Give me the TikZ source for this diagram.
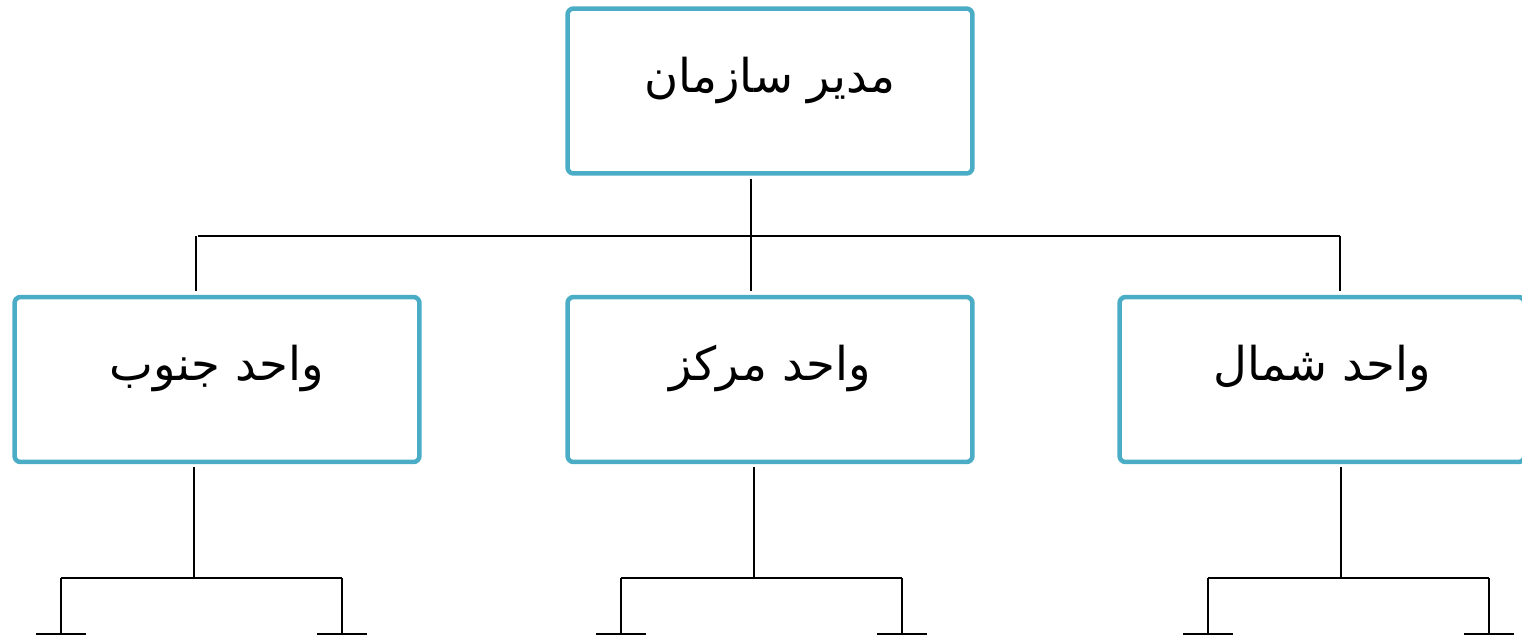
\documentclass[tikz,border=0pt]{standalone}
\usepackage{fontspec}
\usepackage{xcolor}
\usetikzlibrary{calc}
\TeXXeTstate=1
\newfontfamily\arabicfont[Script=Arabic]{DejaVu Sans}
\definecolor{boxblue}{HTML}{4BACC6}
\newcommand{\boxtext}[1]{\raisebox{0.22cm}[\height][\depth]{\beginR #1\endR}}

\begin{document}
\begin{tikzpicture}[x=0.02cm,y=-0.02cm]
        \tikzstyle{unit}=[draw=boxblue,line width=0.09cm,rounded corners=0.12cm,minimum width=8.1cm,minimum height=3.3cm,inner sep=0pt,font=\arabicfont\fontsize{26.5}{30}\selectfont]
        \tikzstyle{link}=[line width=0.042cm]
            \useasboundingbox (0,0) rectangle (1522,637);

            \node[unit] (boss) at (770,91) {\boxtext{مدیر سازمان}};
            \node[unit] (south) at ($(boss)+(-553,288.5)$) {\boxtext{واحد جنوب}};
            \node[unit] (center) at ($(boss)+(0,288.5)$) {\boxtext{واحد مرکز}};
            \node[unit] (north) at ($(boss)+(552,288.5)$) {\boxtext{واحد شمال}};

            \coordinate (top) at (751,236);
            \coordinate (tS) at (196,236);
            \coordinate (tN) at (1340,236);

            \draw[link] (boss.south -| top) ++(0,3) -- (top);
            \draw[link] (tS) ++(2,0) -- (tN);
            \draw[link] (tS) -- ($(south.north -| tS)+(0,-4)$);
            \draw[link] (top) -- ($(center.north -| top)+(0,-4)$);
            \draw[link] (tN) -- ($(north.north -| tN)+(0,-4)$);

            % south
            \coordinate (bS) at (194,578);
            \coordinate (bS1) at (61,578);
            \coordinate (bS2) at (342,578);
            \draw[link] (south.south -| bS) ++(0,3) -- (bS);
            \draw[link] (bS1) -- (bS2);
            \draw[link] (bS1) -- ++(0,56) ++(-25,0) -- ++(50,0);
            \draw[link] (bS2) -- ++(0,56) ++(-25,0) -- ++(50,0);

            % center
            \coordinate (bC) at (754,578);
            \coordinate (bC1) at (621,578);
            \coordinate (bC2) at (902,578);
            \draw[link] (center.south -| bC) ++(0,3) -- (bC);
            \draw[link] (bC1) -- (bC2);
            \draw[link] (bC1) -- ++(0,56) ++(-25,0) -- ++(50,0);
            \draw[link] (bC2) -- ++(0,56) ++(-25,0) -- ++(50,0);

            % north
            \coordinate (bN) at (1341,578);
            \coordinate (bN1) at (1208,578);
            \coordinate (bN2) at (1489,578);
            \draw[link] (north.south -| bN) ++(0,3) -- (bN);
            \draw[link] (bN1) -- (bN2);
            \draw[link] (bN1) -- ++(0,56) ++(-25,0) -- ++(50,0);
            \draw[link] (bN2) -- ++(0,56) ++(-25,0) -- ++(50,0);

        \end{tikzpicture}
\end{document}
